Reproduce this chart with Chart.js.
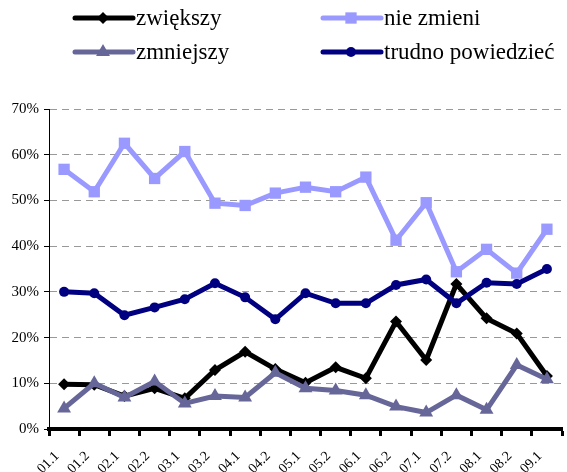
<!DOCTYPE html>
<html>
<head>
<meta charset="utf-8">
<script src="https://cdn.jsdelivr.net/npm/chart.js"></script>
<style>
    html, body { margin: 0; padding: 0; background: #fff; overflow: hidden; }
    #wrap { width: 570px; height: 472px; }
</style>
</head>
<body>
<div id="wrap"><canvas id="chart" width="570" height="472"></canvas></div>
<script>
// Chart data
const labels = ['01.1', '01.2', '02.1', '02.2', '03.1', '03.2', '04.1', '04.2', '05.1',
    '05.2', '06.1', '06.2', '07.1', '07.2', '08.1', '08.2', '09.1'];
const zwiekszy = [9.8, 9.7, 7.2, 8.9, 6.7, 12.9, 16.9, 13.1, 10.1, 13.5, 11.1, 23.5, 15.1, 31.7, 24.2, 20.9, 11.6];
const nieZmieni = [56.8, 51.9, 62.5, 54.8, 60.7, 49.4, 48.9, 51.6, 52.9, 51.9, 55.1, 41.3, 49.5, 34.4, 39.3, 34.1, 43.7];
const zmniejszy = [4.5, 10.0, 6.9, 10.4, 5.6, 7.2, 6.9, 12.3, 8.9, 8.4, 7.4, 4.9, 3.6, 7.4, 4.2, 14.0, 10.9];
const trudno = [30.0, 29.7, 24.9, 26.6, 28.4, 31.9, 28.8, 24.0, 29.7, 27.5, 27.5, 31.5, 32.7, 27.5, 32.0, 31.7, 35.0];
const seriesNames = ['zwiększy', 'nie zmieni', 'zmniejszy', 'trudno powiedzieć'];
const yTicks = [0, 10, 20, 30, 40, 50, 60, 70];

const FONT = "'Liberation Serif', 'Times New Roman', serif";

function makeSeries(label, data, color, style, radius, order) {
    return {
        label: label,
        data: data,
        borderColor: color,
        backgroundColor: color,
        borderWidth: 5,
        pointStyle: style,
        pointRadius: radius,
        pointHoverRadius: radius,
        pointBorderWidth: 0,
        pointBackgroundColor: color,
        tension: 0,
        order: order
    };
}

// draw a legend marker like the chart points
function drawMarker(ctx, style, x, y, r, color) {
    ctx.fillStyle = color;
    ctx.beginPath();
    if (style === 'rectRot') {
        ctx.moveTo(x, y - r);
        ctx.lineTo(x + r, y);
        ctx.lineTo(x, y + r);
        ctx.lineTo(x - r, y);
    } else if (style === 'rect') {
        const s = r * Math.SQRT1_2;
        ctx.rect(x - s, y - s, 2 * s, 2 * s);
    } else if (style === 'triangle') {
        ctx.moveTo(x, y - r);
        ctx.lineTo(x + r * 0.866, y + r * 0.5);
        ctx.lineTo(x - r * 0.866, y + r * 0.5);
    } else {
        ctx.arc(x, y, r, 0, Math.PI * 2);
    }
    ctx.closePath();
    ctx.fill();
}

// 2x2 legend above the plot
const fixedLegend = {
    id: 'fixedLegend',
    afterDraw(chart) {
        const ctx = chart.ctx;
        const colX = [75, 323];
        const rowY = [18, 52];
        ctx.save();
        chart.data.datasets.forEach((ds, i) => {
            const x = colX[i % 2];
            const y = rowY[Math.floor(i / 2)];
            ctx.strokeStyle = ds.borderColor;
            ctx.lineWidth = 5;
            ctx.lineCap = 'round';
            ctx.beginPath();
            ctx.moveTo(x, y);
            ctx.lineTo(x + 58, y);
            ctx.stroke();
            drawMarker(ctx, ds.pointStyle, x + 28, y, ds.pointRadius, ds.borderColor);
            ctx.fillStyle = '#000';
            ctx.font = '23px ' + FONT;
            ctx.textAlign = 'left';
            ctx.textBaseline = 'middle';
            ctx.fillText(ds.label, x + 61, y + 1);
        });
        ctx.restore();
    }
};

const ctx = document.getElementById('chart').getContext('2d');
const chart = new Chart(ctx, {
    type: 'line',
    data: {
        labels: labels,
        datasets: [
            makeSeries(seriesNames[0], zwiekszy, '#000000', 'rectRot', 6, 4),
            makeSeries(seriesNames[1], nieZmieni, '#9999FF', 'rect', 8, 3),
            makeSeries(seriesNames[2], zmniejszy, '#666699', 'triangle', 8, 2),
            makeSeries(seriesNames[3], trudno, '#000080', 'circle', 5, 1)
        ]
    },
    options: {
        responsive: false,
        devicePixelRatio: 1,
        animation: false,
        layout: { padding: { top: 109, left: 0, right: 1, bottom: 0 } },
        plugins: {
            legend: { display: false },
            tooltip: { enabled: false }
        },
        scales: {
            x: {
                offset: true,
                afterFit: (scale) => { scale.height = 43; },
                grid: {
                    offset: true,
                    color: 'rgba(0,0,0,0)',
                    drawOnChartArea: false,
                    drawTicks: true,
                    // long tick slot (pushes labels down) but only the first 5px are drawn
                    tickLength: 14,
                    tickWidth: 3,
                    tickColor: '#000',
                    tickBorderDash: [5, 100]
                },
                border: { display: true, color: '#000', width: 4 },
                ticks: {
                    minRotation: 45,
                    maxRotation: 45,
                    autoSkip: false,
                    labelOffset: -7,
                    padding: 5,
                    color: '#000',
                    font: { family: FONT, size: 14 }
                }
            },
            y: {
                min: 0,
                max: 70,
                afterFit: (scale) => { scale.width = 49; },
                afterBuildTicks: (scale) => { scale.ticks = yTicks.map(v => ({ value: v })); },
                grid: {
                    color: (c) => c.tick && c.tick.value === 0 ? 'rgba(0,0,0,0)' : '#999999',
                    lineWidth: 1,
                    drawTicks: true,
                    tickLength: 5,
                    tickColor: '#000',
                    tickBorderDash: []
                },
                border: { display: true, color: '#000', width: 1, dash: [7, 5] },
                ticks: {
                    padding: 5,
                    color: '#000',
                    font: { family: FONT, size: 15 },
                    callback: (v) => v + '%'
                }
            }
        }
    },
    plugins: [fixedLegend]
});
</script>
</body>
</html>
